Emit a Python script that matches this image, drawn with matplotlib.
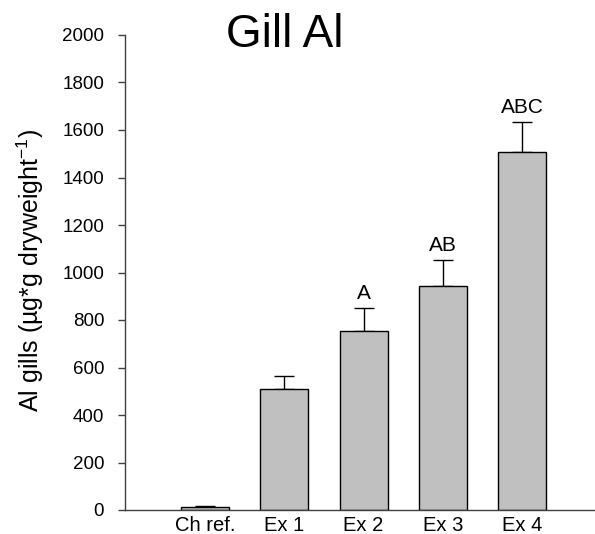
import matplotlib
matplotlib.use("Agg")
import matplotlib.pyplot as plt

plt.rcParams['font.family'] = ['Liberation Sans', 'DejaVu Sans']
plt.rcParams['mathtext.fontset'] = 'custom'
plt.rcParams['mathtext.rm'] = 'Liberation Sans'
plt.rcParams['mathtext.default'] = 'regular'

# gill aluminium per group, mean and SE (upper bar only)
groups = ['Ch ref.', 'Ex 1', 'Ex 2', 'Ex 3', 'Ex 4']
al_mean = [11, 511, 755, 942, 1507]
al_se = [6, 52, 97, 111, 125]
sig = ['', '', 'A', 'AB', 'ABC']
yticks = list(range(0, 2001, 200))

fig = plt.figure(figsize=(5.95, 5.34), dpi=100)
ax = fig.add_axes([125/595, 1-510/534, 1-125/595, (510-35)/534])

x = list(range(len(groups)))
ax.bar(x, al_mean, width=0.606, color='#c0c0c0', edgecolor='black', linewidth=1, zorder=2)
ax.errorbar(x, al_mean, yerr=[[0]*len(x), al_se], fmt='none', ecolor='black',
            elinewidth=1, capsize=7.5, capthick=1, zorder=1)

for xi, m, e, s in zip(x, al_mean, al_se, sig):
    if s:
        ax.annotate(s, (xi, m + e), xytext=(0, 6.5), textcoords='offset points',
                    ha='center', va='baseline', fontsize=15)

ax.set_xlim(-1.01, 4.92)
ax.set_ylim(0, 2000)
ax.set_yticks(yticks)
ax.set_yticklabels([str(t) for t in yticks], fontsize=13.5)
ax.set_xticks(x)
ax.set_xticklabels(groups, fontsize=14.5)
ax.tick_params(axis='x', length=0, pad=4)
ax.tick_params(axis='y', direction='out', length=5, width=1, color='#404040', pad=10)

for side in ['top', 'right']:
    ax.spines[side].set_visible(False)
for side in ['left', 'bottom']:
    ax.spines[side].set_color('#404040')
    ax.spines[side].set_linewidth(1)

fig.text(285/595, 1-46.7/534, 'Gill Al', fontsize=33, ha='center', va='baseline')
fig.text(30.5/595, 1-270/534, 'Al gills (µg*g dryweight$^{-1}$)', fontsize=18,
         rotation=90, ha='center', va='center')

fig.savefig('out.png', dpi=100)
